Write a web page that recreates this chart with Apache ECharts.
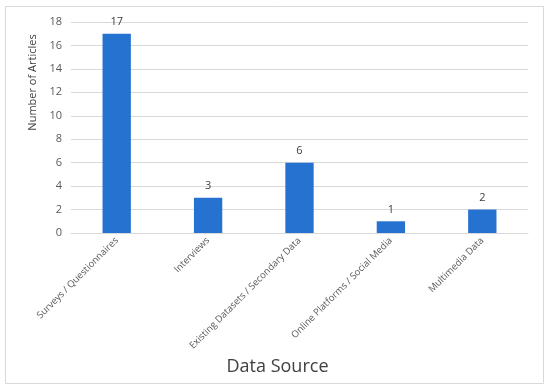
<!DOCTYPE html>
<html><head><meta charset="utf-8">
<script src="https://cdn.jsdelivr.net/npm/echarts@6/dist/echarts.min.js"></script>
<style>html,body{margin:0;padding:0;background:#fff}#c{width:550px;height:390px}</style>
</head><body><div id="c"></div>
<script>
const categories = ["Surveys / Questionnaires","Interviews","Existing Datasets / Secondary Data","Online Platforms / Social Media","Multimedia Data"];
const values = [17, 3, 6, 1, 2];
const yTicks = [0, 2, 4, 6, 8, 10, 12, 14, 16, 18];
const chart = echarts.init(document.getElementById('c'));
const font = "'Open Sans', 'Noto Sans', sans-serif";
chart.setOption({
  animation: false,
  textStyle: {fontFamily: font},
  graphic: [{type:'rect', shape:{x:5.5,y:6.5,width:538,height:377}, style:{fill:'none', stroke:'#d9d9d9', lineWidth:1}}],
  grid: {left: 71, right: 22, top: 22, bottom: 157, outerBoundsMode: 'none', containLabel: false},
  xAxis: {
    type: 'category', data: categories,
    axisTick: {show:false},
    axisLine: {lineStyle:{color:'#d9d9d9'}},
    axisLabel: {rotate: 45, color:'#595959', fontSize: 9.5, fontFamily: font, margin: 6, interval: 0, padding: [28, 0, 0, 0]},
    name: 'Data Source', nameLocation: 'middle', nameGap: 116,
    nameTextStyle: {fontSize: 18, color:'#404040', fontFamily: font, padding: [0, 44, 0, 0]}
  },
  yAxis: {
    type: 'value', min: yTicks[0], max: yTicks[yTicks.length-1], interval: 2,
    axisLine: {show:false}, axisTick:{show:false},
    splitLine: {lineStyle:{color:'#d9d9d9'}},
    axisLabel: {color:'#595959', fontSize: 11, fontFamily: font, margin: 9},
    name: 'Number of Articles', nameLocation: 'middle', nameGap: 32,
    nameTextStyle: {fontSize: 11, color:'#404040', fontFamily: font, padding: [0, 0, 0, 90]}
  },
  series: [{
    type: 'bar', data: values, barWidth: '31%',
    itemStyle: {color: '#2672d0'},
    label: {show: true, position: 'top', color:'#404040', fontSize: 11, fontFamily: font, distance: 6}
  }]
});
</script></body></html>
